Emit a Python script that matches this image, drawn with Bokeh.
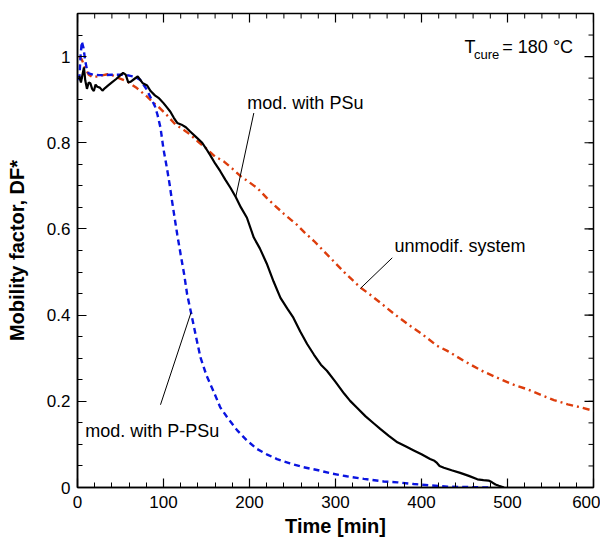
from bokeh.plotting import figure
from bokeh.models import FixedTicker, CustomJSTickFormatter, Range1d, Label
from bokeh.embed import file_html
from bokeh.resources import INLINE

# ---- data ----
time_psu = [2, 4, 6, 7.5, 9, 11, 13, 15, 17, 19, 21, 23, 26, 29, 32, 35, 40, 45, 50, 53, 56, 59, 62, 66,
            70, 73, 76, 81, 85, 90, 95, 100, 104, 108, 112, 116, 121, 126, 131, 138, 145, 150, 155, 160,
            166, 172, 178, 184, 190, 197, 205, 212, 220, 228, 236, 244, 251, 259, 267, 275, 283, 290, 300,
            310, 317, 325, 335, 345, 352, 362, 372, 382, 391, 400, 410, 415, 418, 421, 426, 435, 445, 455,
            465, 472, 478, 482, 486, 490, 496]
df_psu = [0.955, 0.94, 0.96, 0.975, 0.945, 0.925, 0.94, 0.938, 0.925, 0.92, 0.935, 0.93, 0.928, 0.921,
          0.927, 0.932, 0.94, 0.948, 0.957, 0.962, 0.958, 0.94, 0.942, 0.948, 0.954, 0.946, 0.938, 0.933,
          0.92, 0.91, 0.903, 0.892, 0.882, 0.872, 0.858, 0.846, 0.842, 0.836, 0.826, 0.813, 0.800, 0.785,
          0.769, 0.752, 0.734, 0.714, 0.695, 0.674, 0.65, 0.626, 0.58, 0.555, 0.52, 0.478, 0.44, 0.415,
          0.394, 0.362, 0.333, 0.308, 0.285, 0.271, 0.245, 0.218, 0.201, 0.185, 0.165, 0.148, 0.136, 0.12,
          0.105, 0.095, 0.086, 0.077, 0.066, 0.062, 0.057, 0.05, 0.046, 0.04, 0.034, 0.027, 0.019, 0.017,
          0.016, 0.012, 0.007, 0.004, 0.0]

time_unmod = [2, 5, 9, 13, 18, 23, 30, 35, 40, 48, 58, 69, 81, 88, 96, 105, 114, 122, 131, 140, 149, 160,
              170, 180, 190, 200, 209, 220, 228, 240, 255, 265, 275, 292, 310, 329, 340, 352, 370, 387, 400,
              418, 430, 450, 472, 490, 505, 523, 540, 554, 570, 585, 600]
df_unmod = [1.0, 0.993, 0.973, 0.958, 0.952, 0.954, 0.957, 0.959, 0.957, 0.95, 0.942, 0.927, 0.907, 0.893,
            0.88, 0.862, 0.842, 0.832, 0.819, 0.803, 0.788, 0.768, 0.757, 0.74, 0.722, 0.708, 0.695, 0.672,
            0.657, 0.635, 0.61, 0.59, 0.572, 0.537, 0.5, 0.464, 0.448, 0.429, 0.4, 0.375, 0.357, 0.329,
            0.317, 0.293, 0.269, 0.253, 0.24, 0.228, 0.214, 0.203, 0.193, 0.186, 0.178]

time_ppsu = [2, 3.5, 5, 7, 9, 11, 13, 18, 25, 30, 40, 50, 60, 67, 73, 80, 85, 90, 93, 96.5, 100, 104, 107,
             110, 113, 116, 120, 124, 127.5, 132, 138, 143, 150, 158, 166, 174, 186, 197, 209, 220, 232,
             247, 263, 280, 294, 313, 333, 356, 372, 391, 410, 430, 455, 478]
df_ppsu = [0.945, 1.0, 1.035, 1.02, 0.99, 0.97, 0.961, 0.958, 0.957, 0.957, 0.958, 0.958, 0.956, 0.953,
           0.946, 0.925, 0.905, 0.885, 0.865, 0.835, 0.785, 0.741, 0.705, 0.664, 0.625, 0.587, 0.54, 0.495,
           0.448, 0.406, 0.348, 0.302, 0.26, 0.224, 0.186, 0.163, 0.132, 0.109, 0.089, 0.077, 0.066, 0.056,
           0.047, 0.04, 0.033, 0.026, 0.02, 0.014, 0.012, 0.008, 0.005, 0.002, 0.001, 0.0]

x_ticks = [0, 100, 200, 300, 400, 500, 600]
x_tick_labels = ["0", "100", "200", "300", "400", "500", "600"]
x_minor = list(range(0, 601, 20))
y_ticks = [0, 0.2, 0.4, 0.6, 0.8, 1.0]
y_tick_labels = ["0", "0.2", "0.4", "0.6", "0.8", "1"]
y_minor = [round(i * 0.05, 2) for i in range(0, 23)]

X_MAX = 600
Y_MAX = 1.1
FRAME_W = 516
FRAME_H = 474
MAJOR_PX = 9
MINOR_PX = 5

FONT = "Liberation Sans"

p = figure(frame_width=FRAME_W, frame_height=FRAME_H, min_border_left=77, min_border_right=7,
           min_border_top=13, min_border_bottom=40,
           x_range=Range1d(0, X_MAX), y_range=Range1d(0, Y_MAX),
           output_backend="svg", toolbar_location=None)
p.xgrid.visible = False
p.ygrid.visible = False
p.outline_line_color = "black"
p.outline_line_width = 1.5
p.background_fill_color = "white"
p.border_fill_color = "white"

fmt_code = "const i = tvals.findIndex(t => Math.abs(t - tick) < 1e-6); return i >= 0 ? tlabels[i] : '';"


def style_axis(ax, ticks, minor, labels):
    ax.ticker = FixedTicker(ticks=ticks, minor_ticks=minor)
    ax.formatter = CustomJSTickFormatter(args=dict(tvals=ticks, tlabels=labels), code=fmt_code)
    ax.axis_line_color = "black"
    ax.axis_line_width = 1.5
    ax.major_tick_line_color = "black"
    ax.major_tick_line_width = 1.2
    ax.minor_tick_line_color = "black"
    ax.minor_tick_line_width = 1.0
    ax.major_tick_in = MAJOR_PX
    ax.major_tick_out = 0
    ax.minor_tick_in = MINOR_PX
    ax.minor_tick_out = 0
    ax.major_label_text_font = FONT
    ax.major_label_text_color = "black"
    ax.major_label_text_font_size = "17px"
    ax.axis_label_text_font = FONT
    ax.axis_label_text_font_style = "bold"
    ax.axis_label_text_font_size = "20px"
    ax.axis_label_text_color = "black"


xa = p.xaxis[0]
ya = p.yaxis[0]
style_axis(xa, x_ticks, x_minor, x_tick_labels)
style_axis(ya, y_ticks, y_minor, y_tick_labels)
xa.axis_label = "Time [min]"
ya.axis_label = "Mobility factor, DF*"
xa.major_label_standoff = 8
xa.axis_label_standoff = 4
ya.major_label_standoff = 7
ya.axis_label_standoff = 16

# mirrored inward ticks on the top and right frame edges
dy_major = MAJOR_PX / FRAME_H * Y_MAX
dy_minor = MINOR_PX / FRAME_H * Y_MAX
dx_major = MAJOR_PX / FRAME_W * X_MAX
dx_minor = MINOR_PX / FRAME_W * X_MAX
p.segment(x0=x_ticks, y0=[Y_MAX] * len(x_ticks), x1=x_ticks, y1=[Y_MAX - dy_major] * len(x_ticks),
          line_color="black", line_width=1.2)
p.segment(x0=x_minor, y0=[Y_MAX] * len(x_minor), x1=x_minor, y1=[Y_MAX - dy_minor] * len(x_minor),
          line_color="black", line_width=1.0)
p.segment(x0=[X_MAX] * len(y_ticks), y0=y_ticks, x1=[X_MAX - dx_major] * len(y_ticks), y1=y_ticks,
          line_color="black", line_width=1.2)
p.segment(x0=[X_MAX] * len(y_minor), y0=y_minor, x1=[X_MAX - dx_minor] * len(y_minor), y1=y_minor,
          line_color="black", line_width=1.0)

# curves
p.line(time_unmod, df_unmod, line_color="#DD3D0C", line_width=2.4, line_dash="7 4 2 4")
p.line(time_ppsu, df_ppsu, line_color="#0A14E0", line_width=2.4, line_dash="6 4")
p.line(time_psu, df_psu, line_color="black", line_width=2.2)

# annotation pointer lines
p.segment(x0=[205, 366, 96.5], y0=[0.869, 0.533, 0.192],
          x1=[184, 329, 132], y1=[0.674, 0.462, 0.406],
          line_color="black", line_width=1)


def add_label(x, y, text, size="18px", align="left"):
    p.add_layout(Label(x=x, y=y, text=text, text_font=FONT, text_font_size=size,
                       text_color="black", text_baseline="middle", text_align=align))


add_label(197.5, 0.893, "mod. with PSu")
add_label(368.5, 0.56, "unmodif. system")
add_label(9.0, 0.132, "mod. with P-PSu")
add_label(450.0, 1.023, "T")
add_label(461.0, 1.006, "cure", size="13px")
add_label(494.0, 1.023, "= 180 \u00b0C")

open("out.html", "w").write(file_html(p, INLINE))
